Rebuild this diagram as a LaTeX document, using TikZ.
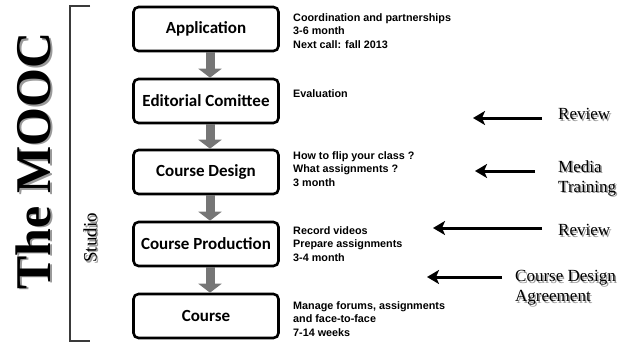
\documentclass[tikz,border=0pt]{standalone}
\usepackage{fontspec}
\setmainfont{Liberation Serif}
\newfontfamily\boxfont{Carlito}
\newfontfamily\notefont{Liberation Sans}
\usetikzlibrary{arrows.meta}
\definecolor{flowgray}{HTML}{767676}
\definecolor{shadowgray}{HTML}{9A9A9A}
\definecolor{brackgray}{HTML}{3A3A3A}
\begin{document}
\begin{tikzpicture}[x=1pt,y=-1pt,
  stage/.style={draw=black, line width=2.6pt, rounded corners=5pt, minimum width=145pt,
    minimum height=44pt, inner sep=0pt, fill=white, font=\boxfont\bfseries\fontsize{17}{20}\selectfont},
  flow/.style={draw=flowgray, line width=9pt, -{Triangle[width=23pt,length=9pt]}},
  note/.style={anchor=north west, inner sep=0pt, align=left, font=\notefont\bfseries\fontsize{10.8}{13.6}\selectfont},
  label/.style={anchor=west, inner sep=0pt, align=left, font=\fontsize{17}{20}\selectfont},
  labelshadow/.style={label, text=shadowgray},
  pointer/.style={draw=black, line width=3pt, -{Stealth[length=12pt,width=14pt,inset=3pt]}},
  brack/.style={draw=brackgray, line width=2pt}
]
\useasboundingbox (0,0) rectangle (623,345);

% title and bracket
\node[rotate=90, text=shadowgray, font=\bfseries\fontsize{50}{56}\selectfont, inner sep=0pt] (moocs) at (35.5,162.5) {The MOOC};
\node[rotate=90, font=\bfseries\fontsize{50}{56}\selectfont, inner sep=0pt] (mooc) at (33,161) {The MOOC};
\draw[brack] (90,6) -- (70,6) -- (70,341) -- (90,341);
\node[rotate=90, text=shadowgray, font=\fontsize{19}{22}\selectfont, inner sep=0pt] (studios) at (91.5,239.5) {Studio};
\node[rotate=90, font=\fontsize{19}{22}\selectfont, inner sep=0pt] (studio) at (90,238) {Studio};

% stages
\node[stage] (app) at (206,29) {Application};
\node[stage] (edit) at (206,101) {Editorial Comittee};
\node[stage] (design) at (206,172) {Course Design};
\node[stage] (prod) at (206,244) {Course Production};
\node[stage] (course) at (206,316) {Course};

\draw[flow] ([xshift=4pt]app.south) -- ([xshift=4pt]edit.north);
\draw[flow] ([xshift=4pt]edit.south) -- ([xshift=4pt]design.north);
\draw[flow] ([xshift=4pt]design.south) -- ([xshift=4pt]prod.north);
\draw[flow] ([xshift=4pt]prod.south) -- ([xshift=4pt]course.north);

% notes
\node[note] (n1) at (293,13) {Coordination and partnerships\\3-6 month\\Next call: fall 2013};
\node[note] (n2) at (293,89) {Evaluation};
\node[note] (n3) at (293,151) {How to flip your class ?\\What assignments ?\\3 month};
\node[note] (n4) at (293,226) {Record videos\\Prepare assignments\\3-4 month};
\node[note] (n5) at (293,301) {Manage forums, assignments\\and face-to-face\\7-14 weeks};

% right labels
\node[labelshadow] (l1s) at (559.5,115.5) {Review};
\node[label] (l1) at (558,114) {Review};
\node[labelshadow] (l2s) at (559.5,179.5) {Media\\Training};
\node[label] (l2) at (558,178) {Media\\Training};
\node[labelshadow] (l3s) at (559.5,231.5) {Review};
\node[label] (l3) at (558,230) {Review};
\node[labelshadow] (l4s) at (516.5,289.5) {Course Design\\Agreement};
\node[label] (l4) at (515,288) {Course Design\\Agreement};

\coordinate (p1a) at (542,118); \coordinate (p1b) at (473,118);
\coordinate (p2a) at (535,171); \coordinate (p2b) at (475,171);
\coordinate (p3a) at (542,228); \coordinate (p3b) at (433,228);
\coordinate (p4a) at (502,277); \coordinate (p4b) at (427,277);
\draw[pointer] (p1a) -- (p1b);
\draw[pointer] (p2a) -- (p2b);
\draw[pointer] (p3a) -- (p3b);
\draw[pointer] (p4a) -- (p4b);
\end{tikzpicture}
\end{document}
